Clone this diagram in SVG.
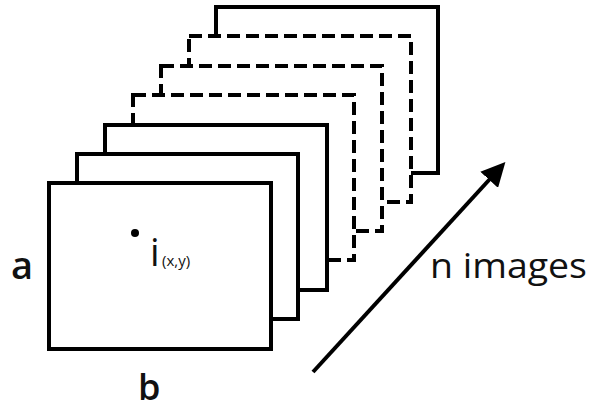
<svg xmlns="http://www.w3.org/2000/svg" width="595" height="410" viewBox="0 0 595 410">
<style>
.frame{fill:#fff;stroke:#000;stroke-width:4}
.dash{stroke-dasharray:13 6}
.lbl{font-family:"Open Sans","Liberation Sans",sans-serif;fill:#111}
</style>
<defs>
<marker id="ah" markerWidth="6" markerHeight="6" refX="4" refY="3" orient="auto" markerUnits="strokeWidth">
<path d="M0,0 L6,3 L0,6 Z" fill="#000"/>
</marker>
</defs>
<rect width="595" height="410" fill="#fff"/>
<g id="frame7"><rect class="frame" x="216" y="7" width="222" height="166"/></g>
<g id="frame6"><rect class="frame dash" x="189" y="36" width="222" height="166"/></g>
<g id="frame5"><rect class="frame dash" x="161" y="66" width="221" height="165"/></g>
<g id="frame4"><rect class="frame dash" x="133" y="95" width="221" height="165"/></g>
<g id="frame3"><rect class="frame" x="105" y="125" width="222" height="165"/></g>
<g id="frame2"><rect class="frame" x="77" y="154" width="221" height="165"/></g>
<g id="frame1">
<rect class="frame" x="49" y="183" width="222" height="166"/>
<circle cx="135" cy="233" r="4" fill="#000"/>
<text class="lbl" x="150" y="266" font-size="38">i</text>
<text class="lbl" x="162" y="266" font-size="15">(x,y)</text>
</g>
<g id="connectors">
<line x1="313" y1="372" x2="500" y2="168" stroke="#000" stroke-width="4" marker-end="url(#ah)"/>
</g>
<text class="lbl" x="11" y="279" font-size="38" font-weight="600">a</text>
<text class="lbl" x="138" y="400" font-size="36" font-weight="600">b</text>
<text class="lbl" x="430" y="278" font-size="34" font-weight="500" textLength="157" lengthAdjust="spacingAndGlyphs">n images</text>
</svg>
